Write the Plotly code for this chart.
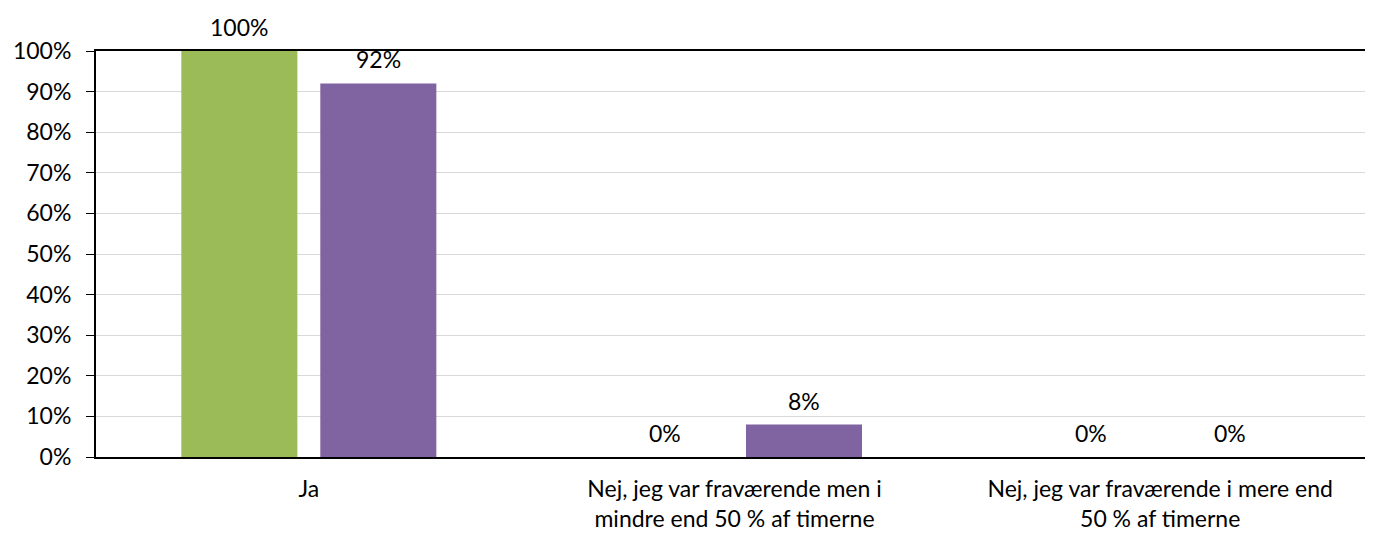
import plotly.graph_objects as go

categories = [
    "Ja",
    "Nej, jeg var fraværende men i<br>mindre end 50 % af timerne",
    "Nej, jeg var fraværende i mere end<br>50 % af timerne",
]
series_a = [1.00, 0.00, 0.00]
series_b = [0.92, 0.08, 0.00]
y_ticks = [0, 0.1, 0.2, 0.3, 0.4, 0.5, 0.6, 0.7, 0.8, 0.9, 1.0]

FONT = "Lato, 'DejaVu Sans', sans-serif"
SIZE = 23

fig = go.Figure()
series = [("Serie 1", series_a, "#9BBB59", -69.5), ("Serie 2", series_b, "#8064A2", 69.5)]
for name, vals, color, shift in series:
    fig.add_trace(
        go.Bar(
            name=name,
            x=categories,
            y=vals,
            marker={"color": color, "line": {"width": 0}},
            hovertemplate="%{y:.0%}<extra>" + name + "</extra>",
        )
    )
    # value labels sit a bit higher above the bars than plotly's outside text
    for cat, v in zip(categories, vals):
        fig.add_annotation(
            x=cat,
            y=v,
            text=f"{v:.0%}",
            showarrow=False,
            xshift=shift,
            yshift=24,
            yanchor="middle",
            font={"size": SIZE, "color": "#000000", "family": FONT},
        )

# page body has an 8px default margin, so offsets are shifted by that
fig.update_layout(
    width=1373,
    height=533,
    margin={"l": 88, "r": 8, "t": 43, "b": 84},
    barmode="group",
    bargap=0.347,
    bargroupgap=0.165,
    showlegend=False,
    plot_bgcolor="white",
    paper_bgcolor="white",
    font={"family": FONT, "size": SIZE, "color": "#000000"},
)
fig.update_yaxes(
    range=[0, 1],
    tickvals=y_ticks,
    tickformat=".0%",
    showgrid=True,
    gridcolor="#d9d9d9",
    gridwidth=1,
    showline=True,
    linecolor="#000000",
    linewidth=2,
    ticks="outside",
    ticklen=8,
    tickcolor="#000000",
    ticklabelstandoff=10,
    zeroline=False,
    automargin=False,
)
fig.update_xaxes(
    showline=True,
    linecolor="#000000",
    linewidth=2,
    mirror=True,
    ticks="",
    tickfont={"size": SIZE},
    ticklabelstandoff=10,
    automargin=False,
)

fig.write_html("out.html")
